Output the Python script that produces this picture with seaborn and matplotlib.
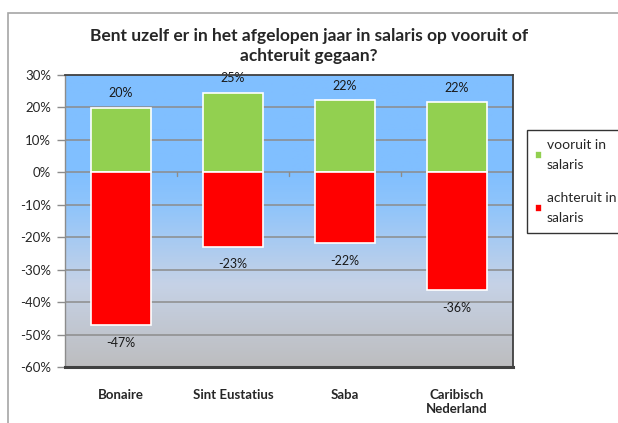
import numpy as np
import pandas as pd
import matplotlib
matplotlib.use("Agg")
import matplotlib.pyplot as plt
from matplotlib.colors import LinearSegmentedColormap
from matplotlib.patches import Rectangle
import seaborn as sns

# data (percentages)
gebieden = ["Bonaire", "Sint Eustatius", "Saba", "Caribisch\nNederland"]
vooruit = [19.8, 24.6, 22.2, 21.6]
achteruit = [-47.2, -22.9, -21.8, -36.3]
reeksen = ["vooruit in\nsalaris", "achteruit in\nsalaris"]
yticks = [30, 20, 10, 0, -10, -20, -30, -40, -50, -60]

df = pd.DataFrame({
    "gebied": gebieden * 2,
    "waarde": vooruit + achteruit,
    "reeks": [reeksen[0]] * 4 + [reeksen[1]] * 4,
})

sns.set_style("white")
plt.rcParams["font.family"] = ["Lato", "DejaVu Sans"]

fig = plt.figure(figsize=(6.18, 4.23), dpi=100)
ax = fig.add_axes([65 / 618, 1 - 367 / 423, (513 - 65) / 618, (367 - 75) / 423])

# outer chart frame
fig.patches.append(Rectangle((8 / 618, -0.1), 1.2, (423 - 13) / 423 + 0.1,
                             transform=fig.transFigure, fill=False,
                             edgecolor="#a6a6a6", linewidth=1.2))

# plot area gradient
cmap = LinearSegmentedColormap.from_list(
    "bg", [(0.0, "#bdbdbf"), (0.28, "#c6d2e6"), (0.55, "#8fc4fb"),
           (0.67, "#80bfff"), (1.0, "#80bfff")])
grad = np.linspace(0, 1, 256).reshape(-1, 1)
ax.imshow(grad, cmap=cmap, origin="lower", aspect="auto",
          extent=[-0.5, 3.5, -60, 30], zorder=0)

for y in yticks[1:-1]:
    ax.axhline(y, color="#8c8c8c", linewidth=1.1, zorder=1)

sns.barplot(data=df, x="gebied", y="waarde", hue="reeks", dodge=False,
            palette=["#92d050", "#ff0000"], saturation=1, width=0.53,
            edgecolor="white", linewidth=1.2, ax=ax, zorder=3, legend=True)

for i, (v, a) in enumerate(zip(vooruit, achteruit)):
    ax.text(i, v + 4.5, f"{v:.0f}%", ha="center", va="center", fontsize=9, color="#1a1a1a")
    ax.text(i, a - 5.5, f"{a:.0f}%", ha="center", va="center", fontsize=9, color="#1a1a1a")

# small category ticks on the zero line
for x in [0.5, 1.5, 2.5]:
    ax.plot([x, x], [0, -1.2], color="#8c8c8c", linewidth=1, zorder=2)

ax.set_xlim(-0.5, 3.5)
ax.set_ylim(-60, 30)
ax.set_yticks(yticks)
ax.set_yticklabels([f"{t}%" for t in yticks], fontsize=9.5)
ax.tick_params(axis="y", length=6, color="#8c8c8c", width=1, pad=4, left=True)
ax.tick_params(axis="x", length=0, pad=16)
for lab in ax.get_xticklabels():
    lab.set_fontweight("bold")
    lab.set_fontsize(9.5)
ax.set_xlabel("")
ax.set_ylabel("")

for s in ["top", "right"]:
    ax.spines[s].set_color("#404040")
    ax.spines[s].set_linewidth(1.3)
ax.spines["bottom"].set_color("#404040")
ax.spines["bottom"].set_linewidth(2.2)
ax.spines["left"].set_color("#8c8c8c")
ax.spines["left"].set_linewidth(1)
for s in ax.spines.values():
    s.set_zorder(5)
    s.set_visible(True)

fig.text(0.5, 1 - 46 / 423, "Bent uzelf er in het afgelopen jaar in salaris op vooruit of\nachteruit gegaan?",
         ha="center", va="center", fontsize=12.5, fontweight="bold", linespacing=1.25)

handles, labels = ax.get_legend_handles_labels()
leg = ax.legend(handles, labels, loc="center left", bbox_to_anchor=(1.031, 0.635),
                frameon=True, fancybox=False, edgecolor="black", fontsize=10,
                handlelength=0.5, handleheight=0.5, handletextpad=0.35,
                labelspacing=1.5, borderpad=0.6, borderaxespad=0)
leg.get_frame().set_linewidth(1)
for t in leg.get_texts():
    t.set_linespacing(1.85)

fig.savefig("out.png", dpi=100)
